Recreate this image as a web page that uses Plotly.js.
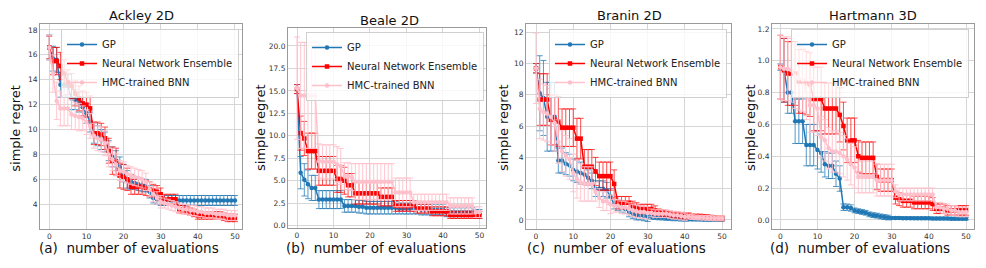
<!DOCTYPE html>
<html>
<head>
<meta charset="utf-8">
<script src="https://cdn.plot.ly/plotly-3.0.1.min.js"></script>
<style>html,body{margin:0;padding:0;background:#fff;}#chart{width:986px;height:268px;}</style>
</head>
<body>
<div id="chart"></div>
<script>
// ---- data ----
const evals = [0,1,2,3,4,5,6,7,8,9,10,11,12,13,14,15,16,17,18,19,20,21,22,23,24,25,26,27,28,29,30,31,32,33,34,35,36,37,38,39,40,41,42,43,44,45,46,47,48,49,50];
const seriesNames = ["GP", "Neural Network Ensemble", "HMC-trained BNN"];
const panelTitles = ["Ackley 2D", "Beale 2D", "Branin 2D", "Hartmann 3D"];
const panelLetters = ["(a)", "(b)", "(c)", "(d)"];
const xTitle = "number of evaluations";
const yTitle = "simple regret";

// Ackley 2D
const ackleyGP   = [16.6,15.7,15.6,13.6,13.6,13.5,12.5,12.4,12.2,11.8,11.3,10.6,9.7,9.5,9.2,9.0,8.3,7.8,7.5,7.0,6.5,6.0,5.8,5.7,5.6,5.5,5.5,5.0,4.5,4.4,4.3,4.3,4.3,4.3,4.3,4.3,4.3,4.3,4.3,4.3,4.3,4.3,4.3,4.3,4.3,4.3,4.3,4.3,4.3,4.3,4.3];
const ackleyGPErr= [1.0,1.0,1.0,1.0,0.9,0.9,0.9,0.8,0.8,0.8,0.8,0.8,0.8,0.8,0.8,0.8,0.8,0.8,0.8,0.8,0.7,0.7,0.6,0.5,0.5,0.5,0.5,0.5,0.4,0.4,0.4,0.4,0.4,0.4,0.4,0.4,0.4,0.4,0.4,0.4,0.4,0.4,0.4,0.4,0.4,0.4,0.4,0.4,0.4,0.4,0.4];
const ackleyNNE  = [16.6,15.5,15.5,15.1,14.5,13.8,13.5,12.9,12.5,12.1,12.0,11.7,9.7,9.7,9.6,9.3,8.3,7.5,7.4,6.3,6.2,6.0,5.4,5.4,5.4,5.4,5.3,5.2,5.1,5.0,4.8,4.4,4.4,4.4,4.4,3.6,3.6,3.5,3.4,3.3,3.1,3.1,3.1,3.1,3.1,3.1,3.1,3.0,2.9,2.9,2.9];
const ackleyNNEErr=[0.9,1.1,1.1,1.1,1.1,1.0,1.0,1.0,1.0,1.0,1.0,1.0,0.9,0.9,0.9,0.9,1.0,1.1,1.1,1.0,1.0,0.9,0.6,0.6,0.6,0.6,0.6,0.6,0.5,0.5,0.5,0.4,0.4,0.4,0.4,0.3,0.3,0.3,0.3,0.3,0.3,0.3,0.3,0.3,0.3,0.3,0.3,0.3,0.3,0.3,0.3];
const ackleyHMC  = [16.6,14.5,12.3,11.7,11.7,11.7,11.2,11.1,11.0,10.9,10.6,10.3,9.5,9.3,9.2,8.9,8.0,7.6,7.2,6.7,6.6,6.4,6.3,6.2,6.1,6.0,5.8,5.2,4.8,4.5,4.2,4.1,4.0,3.9,3.8,3.7,3.6,3.6,3.5,3.5,3.4,3.4,3.3,3.3,3.3,3.2,3.2,3.2,3.1,3.1,3.1];
const ackleyHMCErr=[1.0,1.5,1.5,1.4,1.4,1.4,1.2,1.1,1.1,1.0,1.0,1.0,1.0,1.0,1.0,1.0,1.0,0.9,0.9,0.8,0.8,0.7,0.7,0.7,0.7,0.7,0.7,0.6,0.6,0.5,0.5,0.4,0.4,0.4,0.4,0.4,0.4,0.4,0.4,0.4,0.4,0.4,0.4,0.4,0.4,0.4,0.4,0.4,0.4,0.4,0.4];

// Beale 2D
const bealeGP    = [15.2,5.9,5.1,4.6,4.2,4.2,2.9,2.9,2.9,2.9,2.9,2.9,2.9,2.2,2.2,2.2,2.2,2.1,2.1,2.0,2.0,2.0,2.0,2.0,2.0,2.0,2.0,2.0,1.9,1.9,1.9,1.9,1.9,1.9,1.8,1.8,1.8,1.8,1.8,1.8,1.8,1.5,1.5,1.5,1.5,1.5,1.5,1.5,1.5,1.3,1.3];
const bealeGPErr = [0.5,1.8,1.8,1.6,1.4,1.4,1.0,1.0,1.0,1.0,1.0,1.0,1.0,0.7,0.7,0.7,0.7,0.7,0.7,0.7,0.7,0.7,0.7,0.7,0.7,0.7,0.7,0.7,0.6,0.6,0.6,0.6,0.6,0.6,0.6,0.6,0.6,0.6,0.6,0.6,0.6,0.5,0.5,0.5,0.5,0.5,0.5,0.5,0.5,0.5,0.5];
const bealeNNE   = [15.2,10.3,9.7,8.3,8.3,8.3,6.1,6.1,6.1,6.1,6.1,5.2,5.2,5.0,4.5,4.5,3.6,3.6,3.6,3.6,3.6,3.6,3.6,3.2,3.2,3.2,3.2,2.2,2.2,2.2,2.2,2.2,2.2,1.9,1.9,1.9,1.9,1.6,1.6,1.6,1.6,1.6,1.2,1.2,1.2,1.2,1.2,1.2,1.2,1.2,1.2];
const bealeNNEErr= [0.5,1.9,1.9,2.0,2.0,2.0,1.6,1.6,1.6,1.6,1.6,1.5,1.5,1.5,1.3,1.3,1.2,1.2,1.2,1.2,1.2,1.2,1.2,1.0,1.0,1.0,1.0,0.6,0.6,0.6,0.6,0.6,0.6,0.5,0.5,0.5,0.5,0.5,0.5,0.5,0.5,0.5,0.4,0.4,0.4,0.4,0.4,0.4,0.4,0.4,0.4];
const bealeHMC   = [15.3,14.5,14.5,14.5,14.5,14.5,7.2,7.1,7.1,7.1,7.1,6.8,6.6,5.5,5.5,5.4,4.9,4.9,4.9,4.9,4.9,4.9,4.9,4.9,4.9,4.9,4.9,3.7,3.7,3.7,3.7,3.7,2.6,2.6,2.6,2.6,2.6,2.6,2.6,2.6,2.6,2.6,2.2,2.2,2.2,2.2,2.2,2.2,2.2,1.5,1.5];
const bealeHMCErr= [5.7,5.9,5.9,5.9,5.9,5.9,1.9,1.9,1.9,1.9,1.9,2.0,2.0,1.5,1.5,1.5,2.0,2.0,2.0,2.0,2.0,2.0,2.0,2.0,2.0,2.0,2.0,1.6,1.6,1.6,1.6,1.6,0.9,0.9,0.9,0.9,0.9,0.9,0.9,0.9,0.9,0.9,0.9,0.9,0.9,0.9,0.9,0.9,0.9,0.6,0.6];

// Branin 2D
const braninGP   = [9.7,8.1,7.8,6.6,6.6,6.6,3.8,3.8,3.6,3.5,3.2,3.1,3.0,2.9,2.7,2.5,2.0,2.0,2.0,1.9,1.5,1.0,0.9,0.8,0.7,0.5,0.4,0.3,0.3,0.25,0.2,0.2,0.18,0.16,0.15,0.13,0.12,0.1,0.1,0.08,0.06,0.05,0.05,0.04,0.04,0.03,0.03,0.02,0.02,0.02,0.02];
const braninGPErr= [0.3,2.4,2.4,2.2,2.2,2.2,0.8,0.8,0.7,0.7,0.7,0.7,0.7,0.5,0.5,0.5,0.5,0.5,0.5,0.5,0.5,0.3,0.3,0.3,0.3,0.3,0.3,0.3,0.3,0.3,0.3,0.15,0.15,0.15,0.15,0.15,0.15,0.15,0.15,0.15,0.15,0.1,0.1,0.1,0.1,0.1,0.1,0.1,0.1,0.1,0.1];
const braninNNE  = [9.7,7.7,7.7,7.7,6.4,6.4,6.3,5.9,5.9,5.9,5.9,5.2,5.2,3.4,3.4,3.4,3.1,2.8,2.8,2.8,2.8,2.3,1.1,1.1,1.1,1.1,0.9,0.8,0.7,0.7,0.7,0.7,0.6,0.5,0.45,0.4,0.35,0.3,0.3,0.28,0.25,0.25,0.22,0.22,0.22,0.2,0.18,0.15,0.12,0.1,0.1];
const braninNNEErr=[0.3,1.65,1.65,1.65,1.6,1.6,1.6,1.2,1.2,1.2,1.2,1.3,1.3,1.1,1.1,1.1,0.9,0.9,0.9,0.9,0.9,0.9,0.4,0.4,0.4,0.4,0.3,0.3,0.3,0.3,0.3,0.3,0.3,0.2,0.2,0.2,0.2,0.2,0.2,0.2,0.2,0.2,0.15,0.15,0.15,0.15,0.15,0.15,0.15,0.15,0.15];
const braninHMC  = [9.7,7.1,6.9,6.8,6.6,6.2,5.0,4.4,4.1,3.9,3.0,2.6,2.4,2.3,2.3,2.3,1.8,1.4,1.2,1.2,1.0,0.9,0.9,0.8,0.8,0.7,0.6,0.55,0.5,0.5,0.45,0.45,0.4,0.4,0.4,0.4,0.35,0.3,0.3,0.25,0.2,0.2,0.18,0.16,0.15,0.14,0.13,0.12,0.1,0.1,0.1];
const braninHMCErr=[2.25,1.9,1.8,1.8,1.8,1.8,1.4,1.3,1.3,1.3,1.2,1.2,1.2,1.1,1.1,1.1,0.6,0.6,0.6,0.6,0.6,0.4,0.4,0.4,0.4,0.4,0.4,0.4,0.4,0.4,0.4,0.25,0.25,0.25,0.25,0.25,0.25,0.25,0.25,0.25,0.25,0.15,0.15,0.15,0.15,0.15,0.15,0.15,0.15,0.15,0.15];

// Hartmann 3D
const hartGP     = [0.96,0.94,0.80,0.80,0.62,0.62,0.62,0.47,0.47,0.47,0.44,0.42,0.35,0.34,0.34,0.29,0.26,0.08,0.08,0.075,0.06,0.055,0.05,0.045,0.035,0.03,0.027,0.022,0.018,0.015,0.012,0.012,0.012,0.011,0.011,0.011,0.01,0.01,0.01,0.01,0.01,0.009,0.009,0.009,0.009,0.009,0.008,0.008,0.008,0.008,0.008];
const hartGPErr  = [0.02,0.2,0.13,0.13,0.14,0.14,0.14,0.13,0.13,0.13,0.12,0.12,0.08,0.08,0.08,0.08,0.08,0.02,0.02,0.02,0.015,0.015,0.015,0.015,0.015,0.015,0.015,0.015,0.015,0.015,0.008,0.008,0.008,0.008,0.008,0.008,0.008,0.008,0.008,0.008,0.008,0.008,0.008,0.008,0.008,0.008,0.008,0.008,0.008,0.008,0.008];
const hartNNE    = [0.96,0.94,0.92,0.92,0.92,0.87,0.87,0.86,0.85,0.76,0.76,0.76,0.70,0.70,0.70,0.70,0.66,0.59,0.50,0.50,0.50,0.40,0.39,0.39,0.39,0.39,0.27,0.25,0.25,0.25,0.25,0.14,0.13,0.12,0.12,0.12,0.11,0.11,0.11,0.11,0.11,0.10,0.07,0.07,0.07,0.06,0.06,0.06,0.06,0.06,0.06];
const hartNNEErr = [0.2,0.2,0.2,0.2,0.2,0.2,0.2,0.2,0.2,0.2,0.2,0.2,0.16,0.16,0.16,0.16,0.17,0.15,0.14,0.14,0.14,0.1,0.1,0.1,0.1,0.1,0.08,0.07,0.07,0.07,0.07,0.04,0.04,0.04,0.04,0.04,0.04,0.04,0.04,0.04,0.04,0.04,0.03,0.03,0.03,0.03,0.03,0.03,0.03,0.03,0.03];
const hartHMC    = [0.96,0.95,0.95,0.94,0.90,0.89,0.88,0.80,0.72,0.72,0.70,0.52,0.50,0.45,0.43,0.43,0.42,0.40,0.38,0.35,0.33,0.27,0.27,0.27,0.27,0.27,0.25,0.25,0.25,0.25,0.25,0.18,0.16,0.16,0.16,0.16,0.16,0.16,0.16,0.16,0.16,0.16,0.08,0.08,0.07,0.07,0.06,0.06,0.05,0.05,0.05];
const hartHMCErr = [0.2,0.2,0.2,0.2,0.2,0.2,0.2,0.17,0.17,0.17,0.17,0.13,0.13,0.13,0.13,0.13,0.13,0.13,0.13,0.13,0.13,0.1,0.1,0.1,0.1,0.1,0.1,0.1,0.1,0.1,0.1,0.04,0.04,0.04,0.04,0.04,0.04,0.04,0.04,0.04,0.04,0.04,0.03,0.03,0.03,0.03,0.03,0.03,0.03,0.03,0.03];

const yTickVals = [
  [4,6,8,10,12,14,16,18],
  [0,2.5,5,7.5,10,12.5,15,17.5,20],
  [0,2,4,6,8,10,12],
  [0,0.2,0.4,0.6,0.8,1.0,1.2]
];
const xTickVals = [0,10,20,30,40,50];

// ---- styling / layout ----
const W = 986, H = 268;
const panelBoxes = [ // pixel frame [left,right,top,bottom]
  [40,242,24,229],
  [288,486,28,228],
  [526,731,24,229],
  [772,974,24,229]
];
const xRanges = [[-2.5,51.9],[-2.47,51.8],[-2.69,52.4],[-2.23,52.15]];
const yRanges = [[2.01,18.48],[-0.26,22.0],[-0.58,12.53],[-0.057,1.231]];
const yTickFmt = ['', '.1f', '', '.1f'];
const titleCenters = [[141.7,16],[389,20],[629,16],[873,16]];
const xTitleCenters = [128.5,376,616,860];
const yTitleX = [14.7,260,503,750];
const legendCorners = [[239,29],[484,32],[727,29],[969,29]];

const colors = ['#1f77b4','#ff0000','#ffc0cb'];
const errColors = ['rgba(31,119,180,0.75)','rgba(255,0,0,0.7)','rgba(255,192,203,0.9)'];
const symbols = ['circle','square','circle'];

const panels = [
  [[ackleyGP,ackleyGPErr],[ackleyNNE,ackleyNNEErr],[ackleyHMC,ackleyHMCErr]],
  [[bealeGP,bealeGPErr],[bealeNNE,bealeNNEErr],[bealeHMC,bealeHMCErr]],
  [[braninGP,braninGPErr],[braninNNE,braninNNEErr],[braninHMC,braninHMCErr]],
  [[hartGP,hartGPErr],[hartNNE,hartNNEErr],[hartHMC,hartHMCErr]]
];

const font = 'DejaVu Sans, Arial, sans-serif';
const traces = [];
const layout = {
  width: W, height: H,
  margin: {l:0,r:0,t:0,b:0},
  paper_bgcolor: '#fff', plot_bgcolor: '#fff',
  font: {family: font, color: '#222'},
  showlegend: true,
  annotations: []
};

panels.forEach((panel, p) => {
  const sfx = p === 0 ? '' : String(p + 1);
  const legName = 'legend' + sfx;
  panel.forEach((s, k) => {
    traces.push({
      type: 'scatter', mode: 'lines+markers',
      x: evals, y: s[0],
      name: seriesNames[k],
      xaxis: 'x' + sfx, yaxis: 'y' + sfx,
      legend: legName,
      line: {color: colors[k], width: 1.5},
      marker: {color: colors[k], size: 4.5, symbol: symbols[k]},
      error_y: {type: 'data', array: s[1], visible: true, color: errColors[k], thickness: 1, width: 3}
    });
  });
  const b = panelBoxes[p];
  const common = {
    showline: true, mirror: true, linecolor: '#9a9a9a', linewidth: 1,
    showgrid: true, gridcolor: '#d6d6d6', gridwidth: 1, zeroline: false,
    ticks: '', tickfont: {size: 7.5, color: '#333', family: font}, fixedrange: true
  };
  layout['xaxis' + sfx] = Object.assign({}, common, {
    domain: [b[0]/W, b[1]/W], range: xRanges[p], anchor: 'y' + sfx,
    tickmode: 'array', tickvals: xTickVals
  });
  layout['yaxis' + sfx] = Object.assign({}, common, {
    domain: [1 - b[3]/H, 1 - b[2]/H], range: yRanges[p], anchor: 'x' + sfx,
    tickmode: 'array', tickvals: yTickVals[p], tickformat: yTickFmt[p]
  });
  const lc = legendCorners[p];
  layout[legName] = {
    x: lc[0]/W, y: 1 - lc[1]/H, xanchor: 'right', yanchor: 'top',
    xref: 'paper', yref: 'paper',
    bgcolor: 'rgba(255,255,255,0.8)', bordercolor: '#d0d0d0', borderwidth: 1,
    font: {size: 10, color: '#222', family: font},
    itemwidth: 30, tracegroupgap: 0
  };
  layout.annotations.push({
    text: panelTitles[p], xref: 'paper', yref: 'paper',
    x: titleCenters[p][0]/W, y: 1 - titleCenters[p][1]/H,
    xanchor: 'center', yanchor: 'middle', showarrow: false,
    font: {size: 13, color: '#111', family: font}
  });
  layout.annotations.push({
    text: panelLetters[p] + '&nbsp; ' + xTitle, xref: 'paper', yref: 'paper',
    x: xTitleCenters[p]/W, y: 1 - 248/H,
    xanchor: 'center', yanchor: 'middle', showarrow: false,
    font: {size: 13.5, color: '#111', family: font}
  });
  layout.annotations.push({
    text: yTitle, xref: 'paper', yref: 'paper',
    x: yTitleX[p]/W, y: 1 - 128/H, textangle: -90,
    xanchor: 'center', yanchor: 'middle', showarrow: false,
    font: {size: 13, color: '#111', family: font}
  });
});

Plotly.newPlot('chart', traces, layout, {staticPlot: true, displayModeBar: false});
</script>
</body>
</html>
